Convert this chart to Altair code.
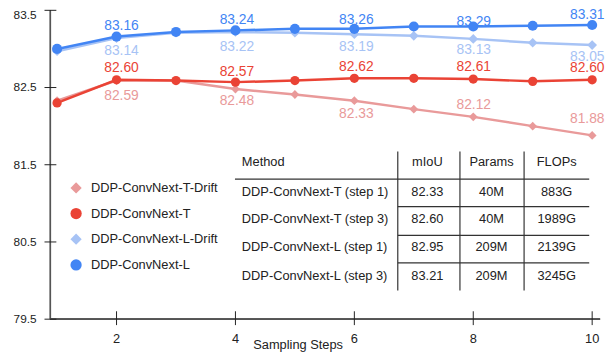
import altair as alt
import pandas as pd

# ---------------- data ----------------
steps = [1, 2, 3, 4, 5, 6, 7, 8, 9, 10]
series_names = ["DDP-ConvNext-T-Drift", "DDP-ConvNext-T",
                "DDP-ConvNext-L-Drift", "DDP-ConvNext-L"]
t_drift = [82.33, 82.59, 82.59, 82.48, 82.41, 82.33, 82.22, 82.12, 82.00, 81.88]
t_main = [82.30, 82.60, 82.59, 82.57, 82.59, 82.62, 82.62, 82.61, 82.58, 82.60]
l_drift = [82.97, 83.14, 83.21, 83.22, 83.21, 83.19, 83.17, 83.13, 83.08, 83.05]
l_main = [83.00, 83.16, 83.22, 83.24, 83.26, 83.26, 83.29, 83.29, 83.30, 83.31]
labeled_steps = [2, 4, 6, 8, 10]

y_ticks = [79.5, 80.5, 81.5, 82.5, 83.5]
x_ticks = [2, 4, 6, 8, 10]
x_title = "Sampling Steps"

table_header = ["Method", "mIoU", "Params", "FLOPs"]
table_methods = ["DDP-ConvNext-T (step 1)", "DDP-ConvNext-T (step 3)",
                 "DDP-ConvNext-L (step 1)", "DDP-ConvNext-L (step 3)"]
table_miou = ["82.33", "82.60", "82.95", "83.21"]
table_params = ["40M", "40M", "209M", "209M"]
table_flops = ["883G", "1989G", "2139G", "3245G"]

# ---------------- styles ----------------
colors = ["#E99A9A", "#EA4335", "#A7C3F5", "#4285F4"]
shapes = ["diamond", "circle", "diamond", "circle"]
point_sizes = [80, 105, 80, 105]
# label placement (pixel offsets from the point, per series, per labelled step)
label_dy = [[16, 12, 14, -12.4, -16.4],
            [-12, -10.5, -11.5, -11.7, -11.7],
            [13, 15, 12.7, 11.7, 11.7],
            [-11, -10, -8.5, -4.5, -10]]
label_dx = [5, 1.5, 2, 0.5, -5]
FONT = "Liberation Sans"
TXT = "#222222"

# layout (pixels on the page)
PX0, PY0 = 51, 8           # plot origin on page
W, H = 557, 313
X_DOMAIN = [0.888, 10.133]
Y_DOMAIN = [79.5, 83.5]
PPX = W / (X_DOMAIN[1] - X_DOMAIN[0])
PPY = H / (Y_DOMAIN[1] - Y_DOMAIN[0])


def px_to_x(px):
    """page pixel -> x data units (through the same linear scale)"""
    return X_DOMAIN[0] + (px - PX0) / PPX


def py_to_y(py):
    return Y_DOMAIN[1] - (py - PY0) / PPY


values = [t_drift, t_main, l_drift, l_main]
rows, lab_rows = [], []
for si, (name, vals) in enumerate(zip(series_names, values)):
    for s, v in zip(steps, vals):
        rows.append({"step": s, "value": v, "series": name})
        if s in labeled_steps:
            k = labeled_steps.index(s)
            lab_rows.append({"series": name, "label": f"{v:.2f}",
                             "lx": s + label_dx[k] / PPX,
                             "ly": v - label_dy[si][k] / PPY})
df = pd.DataFrame(rows)
lab_df = pd.DataFrame(lab_rows)

xs = alt.Scale(domain=X_DOMAIN, nice=False, zero=False)
ys = alt.Scale(domain=Y_DOMAIN, nice=False, zero=False)
cs = alt.Scale(domain=series_names, range=colors)
ss = alt.Scale(domain=series_names, range=shapes)
zs = alt.Scale(domain=series_names, range=point_sizes)

X = lambda f: alt.X(f, scale=xs, axis=None)
Y = lambda f: alt.Y(f, scale=ys, axis=None)

base = alt.Chart(df)

lines = base.mark_line(strokeWidth=2.5).encode(
    x=X("step:Q"), y=Y("value:Q"),
    color=alt.Color("series:N", scale=cs, legend=None),
    detail="series:N",
    order=alt.Order("step:Q"),
)

points = base.mark_point(filled=True, opacity=1).encode(
    x=X("step:Q"), y=Y("value:Q"),
    color=alt.Color("series:N", scale=cs, legend=None),
    shape=alt.Shape("series:N", scale=ss, legend=None),
    size=alt.Size("series:N", scale=zs, legend=None),
)

value_labels = alt.Chart(lab_df).mark_text(
    fontSize=14, font=FONT, baseline="middle", align="center").encode(
    x=X("lx:Q"), y=Y("ly:Q"), text="label:N",
    color=alt.Color("series:N", scale=cs, legend=None),
)

# ---------------- axes (drawn as marks) ----------------
ytick_df = pd.DataFrame({"v": y_ticks, "t": [f"{v:.1f}" for v in y_ticks],
                        "top": [v == max(y_ticks) for v in y_ticks]})
xtick_df = pd.DataFrame({"v": x_ticks, "t": [str(v) for v in x_ticks]})

y_domain_line = alt.Chart(ytick_df).mark_rule(color="#555555", strokeWidth=1.2).encode(
    x=alt.value(0), y=alt.value(0), y2=alt.value(H))
x_domain_line = alt.Chart(xtick_df).mark_rule(color="#555555", strokeWidth=1.2).encode(
    x=alt.value(0), x2=alt.value(W), y=alt.value(H))
ytick_marks = alt.Chart(ytick_df).mark_rule(color="#222222").encode(
    y=Y("v:Q"), x=alt.value(-6), x2=alt.value(6))
xtick_marks = alt.Chart(xtick_df).mark_rule(color="#222222").encode(
    x=X("v:Q"), y=alt.value(H - 8), y2=alt.value(H + 6))
ylab_common = dict(align="right", baseline="middle", fontSize=12, font=FONT,
                   color=TXT, dx=-14)
ytick_labels = alt.Chart(ytick_df).transform_filter("!datum.top").mark_text(
    **ylab_common).encode(y=Y("v:Q"), x=alt.value(0), text="t:N")
ytick_label_top = alt.Chart(ytick_df).transform_filter("datum.top").mark_text(
    dy=4.5, **ylab_common).encode(y=Y("v:Q"), x=alt.value(0), text="t:N")
xtick_labels = alt.Chart(xtick_df).mark_text(
    align="center", baseline="middle", fontSize=13, font=FONT, color=TXT).encode(
    x=X("v:Q"), y=alt.value(H + 20), text="t:N")
x_title_mark = alt.Chart(pd.DataFrame({"t": [x_title]})).mark_text(
    align="center", baseline="middle", fontSize=13, font=FONT, color=TXT).encode(
    x=alt.value(302 - PX0), y=alt.value(347 - PY0), text="t:N")

# ---------------- legend (manual) ----------------
leg_y = [188, 214, 240, 266]
leg_df = pd.DataFrame({
    "name": series_names,
    "yy": [py_to_y(v) for v in leg_y],
    "sx": [px_to_x(77)] * 4, "tx": [px_to_x(92)] * 4,
})
leg_sym = alt.Chart(leg_df).mark_point(filled=True, opacity=1, size=130).encode(
    x=X("sx:Q"), y=Y("yy:Q"),
    color=alt.Color("name:N", scale=cs, legend=None),
    shape=alt.Shape("name:N", scale=ss, legend=None),
)
leg_txt = alt.Chart(leg_df).mark_text(
    align="left", baseline="middle", fontSize=13, font=FONT, color=TXT).encode(
    x=X("tx:Q"), y=Y("yy:Q"), text="name:N",
)

# ---------------- table ----------------
row_y = [162, 192, 220, 248, 277]
col_center = [433, 498, 564]
cells_left = pd.DataFrame({
    "text": [table_header[0]] + table_methods,
    "xx": [px_to_x(245)] * 5,
    "yy": [py_to_y(v) for v in row_y],
})
cell_rows = []
other_cols = [table_miou, table_params, table_flops]
for ci, col in enumerate(other_cols):
    cell_rows.append({"text": table_header[ci + 1], "xx": px_to_x(col_center[ci]),
                      "yy": py_to_y(row_y[0])})
    for ri, t in enumerate(col):
        cell_rows.append({"text": t, "xx": px_to_x(col_center[ci]),
                          "yy": py_to_y(row_y[ri + 1])})
cells_center = pd.DataFrame(cell_rows)

rule_rows = [(238, 597, 179, 179)]
for vx in [403, 466, 531]:
    rule_rows.append((vx, vx, 151, 292))
for hy in [207, 236, 264]:
    rule_rows.append((403, 597, hy, hy))
rules_df = pd.DataFrame([
    {"xa": px_to_x(a), "xb": px_to_x(b), "ya": py_to_y(c), "yb": py_to_y(d)}
    for a, b, c, d in rule_rows])

t_rules = alt.Chart(rules_df).mark_rule(color="#333333", strokeWidth=1.2).encode(
    x=X("xa:Q"), x2="xb:Q", y=Y("ya:Q"), y2="yb:Q",
)
t_left = alt.Chart(cells_left).mark_text(
    align="left", baseline="middle", fontSize=13, font=FONT, color=TXT).encode(
    x=X("xx:Q"), y=Y("yy:Q"), text="text:N")
t_center = alt.Chart(cells_center).mark_text(
    align="center", baseline="middle", fontSize=13, font=FONT, color=TXT).encode(
    x=X("xx:Q"), y=Y("yy:Q"), text="text:N")

chart = alt.layer(
    y_domain_line, x_domain_line, ytick_marks, xtick_marks,
    ytick_labels, ytick_label_top, xtick_labels, x_title_mark,
    value_labels, lines, points,
    leg_sym, leg_txt, t_rules, t_left, t_center,
).properties(
    width=W, height=H,
    autosize=alt.AutoSizeParams(type="none"),
    padding={"left": PX0 - 8, "top": PY0 - 8, "right": 605 - (PX0 - 8) - W,
             "bottom": 350 - (PY0 - 8) - H},
).configure_view(stroke=None)

chart.save("out.html", embed_options={"renderer": "svg", "actions": False})
